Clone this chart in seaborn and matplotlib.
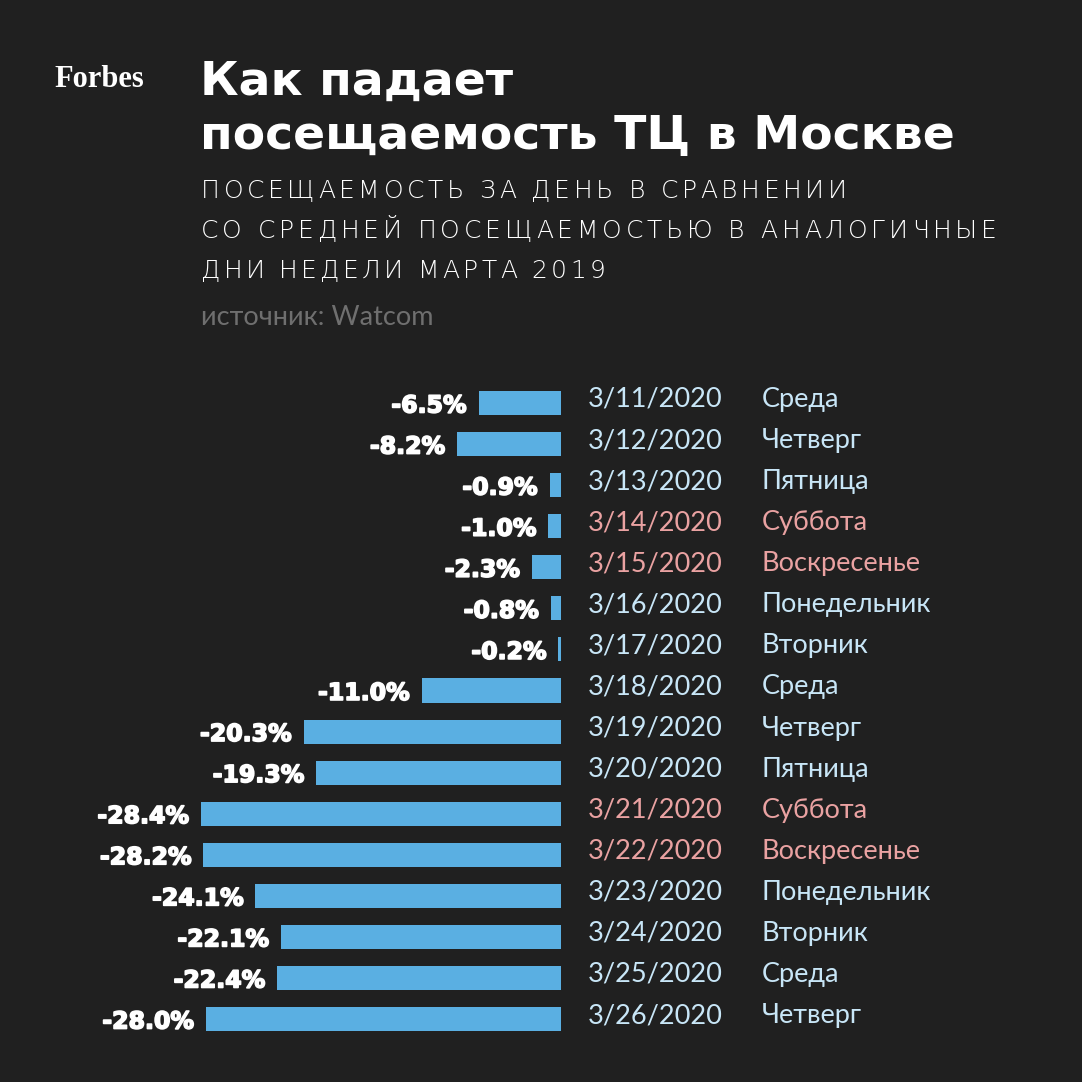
import matplotlib
matplotlib.use("Agg")
import matplotlib.pyplot as plt
import matplotlib.transforms as mtransforms
import matplotlib.patheffects as pe
import seaborn as sns
import pandas as pd

dates = ["3/11/2020", "3/12/2020", "3/13/2020", "3/14/2020", "3/15/2020", "3/16/2020",
         "3/17/2020", "3/18/2020", "3/19/2020", "3/20/2020", "3/21/2020", "3/22/2020",
         "3/23/2020", "3/24/2020", "3/25/2020", "3/26/2020"]
days = ["Среда", "Четверг", "Пятница", "Суббота", "Воскресенье", "Понедельник",
        "Вторник", "Среда", "Четверг", "Пятница", "Суббота", "Воскресенье",
        "Понедельник", "Вторник", "Среда", "Четверг"]
values = [-6.5, -8.2, -0.9, -1.0, -2.3, -0.8, -0.2, -11.0, -20.3, -19.3,
          -28.4, -28.2, -24.1, -22.1, -22.4, -28.0]
weekend_days = ["Суббота", "Воскресенье"]

BG = "#202020"
BAR = "#5aafe2"
WEEKDAY_C = "#c8e6f7"
WEEKEND_C = "#eaa2a2"

sns.set_theme(style="white")
plt.rcParams['font.family'] = ['Lato', 'DejaVu Sans']

W = H = 1082
fig = plt.figure(figsize=(W / 100, H / 100), dpi=100, facecolor=BG)
renderer = fig.canvas.get_renderer()

def fx(px):
    return px / W

def fy(py):
    return 1 - py / H

def tracked_text(x_px, y_px, s, target_width_px, **kw):
    """Draw text with letter spacing so that the line spans target_width_px."""
    def width(t):
        probe = fig.text(0, 0, t + "|", **kw)
        bar = fig.text(0, 0, "|", **kw)
        w = probe.get_window_extent(renderer).width - bar.get_window_extent(renderer).width
        probe.remove()
        bar.remove()
        return w
    natural = width(s)
    n = len(s) - 1
    track = (target_width_px - natural) / n if n > 0 else 0
    for k, ch in enumerate(s):
        off = width(s[:k]) if k > 0 else 0
        fig.text(fx(x_px + off + k * track), fy(y_px), ch, ha="left",
                 va="center_baseline", **kw)

# axes geometry (pixels)
x0_px = 561 - 12.68 * 30
x1_px = 561
row0 = 403
step = 41.07
top_px = row0 - step / 2
bot_px = row0 + 15 * step + step / 2
ax = fig.add_axes([fx(x0_px), fy(bot_px), fx(x1_px - x0_px), (bot_px - top_px) / H])
ax.set_facecolor(BG)

df = pd.DataFrame({"date": dates, "value": values, "day": days})
sns.barplot(data=df, x="value", y="date", orient="h", color=BAR, width=0.585,
            saturation=1, linewidth=0, ax=ax, order=dates)
ax.set_xlim(-30, 0)
ax.set_ylim(15.5, -0.5)
ax.axis("off")

trans = mtransforms.blended_transform_factory(fig.transFigure, ax.transData)
up = mtransforms.offset_copy(trans, fig=fig, x=0, y=6, units="dots")
for i, (d, v, day) in enumerate(zip(dates, values, days)):
    col = WEEKEND_C if day in weekend_days else WEEKDAY_C
    ax.text(fx(588), i, d, transform=up, color=col, fontsize=19.5,
            va="center_baseline", ha="left")
    ax.text(fx(762), i, day, transform=up, color=col, fontsize=19.5,
            va="center_baseline", ha="left")
    ax.annotate(f"{v:.1f}%", xy=(v, i), xytext=(-12, 0), textcoords="offset pixels",
                color="white", fontsize=17, fontweight="bold",
                family=["DejaVu Sans"],
                path_effects=[pe.withStroke(linewidth=1.2, foreground="white")],
                va="center_baseline", ha="right", annotation_clip=False)

# Header
fig.text(fx(54), fy(76), "Forbes", color="white", fontsize=22, fontweight="bold",
         family=["Liberation Serif", "DejaVu Serif"], va="center_baseline", ha="left")
fig.text(fx(200), fy(77), "Как падает", color="white", fontsize=34, fontweight="bold",
         family=["DejaVu Sans"], va="center_baseline", ha="left")
fig.text(fx(200), fy(132), "посещаемость ТЦ в Москве", color="white", fontsize=34,
         fontweight="bold", family=["DejaVu Sans"], va="center_baseline", ha="left")
subs = ["ПОСЕЩАЕМОСТЬ ЗА ДЕНЬ В СРАВНЕНИИ",
        "СО СРЕДНЕЙ ПОСЕЩАЕМОСТЬЮ В АНАЛОГИЧНЫЕ",
        "ДНИ НЕДЕЛИ МАРТА 2019"]
sub_widths = [646, 796, 404]
for k, (s, wdt) in enumerate(zip(subs, sub_widths)):
    tracked_text(201, 188 + 40 * k, s, wdt, color="white", fontsize=18,
                 fontweight="light", family=["DejaVu Sans"])
fig.text(fx(201), fy(315), "источник: Watcom", color="#6f6f6f", fontsize=19.5,
         va="center_baseline", ha="left")

fig.savefig("out.png", dpi=100, facecolor=BG)
